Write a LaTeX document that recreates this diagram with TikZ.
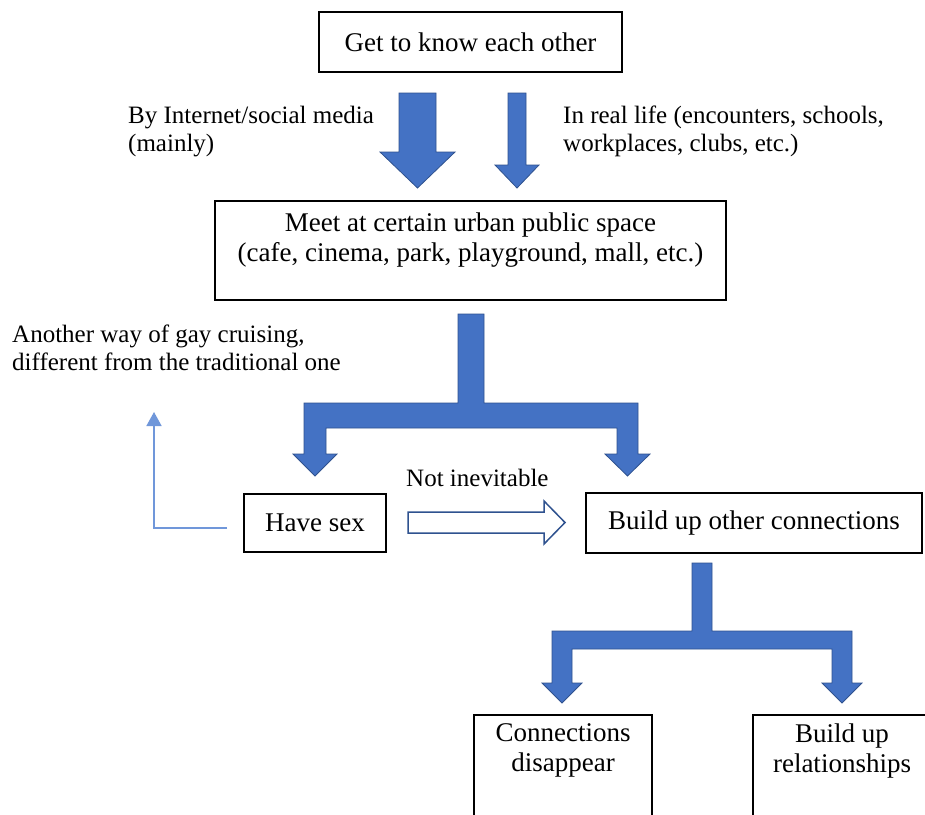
\documentclass[tikz,border=0pt]{standalone}
\usepackage{fontspec}
\setmainfont{Liberation Serif}
\usetikzlibrary{arrows.meta}
\definecolor{blk}{HTML}{4472C4}
\definecolor{blkedge}{HTML}{2F528F}
\definecolor{thinblue}{HTML}{7097DA}
\begin{document}
\begin{tikzpicture}[x=1pt,y=-1pt,
  box/.style={draw=black,line width=2.2pt,inner sep=0pt},
  boxtext/.style={font=\fontsize{27}{30}\selectfont,align=center,inner sep=0pt},
  lbl/.style={font=\fontsize{25}{28}\selectfont,align=left,inner sep=0pt,anchor=north west},
  blockarrow/.style={fill=blk,draw=blkedge,line width=0.8pt,line join=miter},
  hollow/.style={fill=white,draw=blkedge,line width=1.5pt,line join=miter},
  back/.style={draw=thinblue,line width=1.6pt,-{Triangle[width=15pt,length=14pt]}}]
\path[use as bounding box, clip] (0,0) rectangle (925,814);
\fill[white] (0,0) rectangle (925,814);

% boxes
\node[box,boxtext,minimum width=303,minimum height=60] (know) at (470.5,42) {Get to know each other};
\node[box,minimum width=511,minimum height=99] (meet) at (470.5,250.5) {};
\node[boxtext] (meettxt) at (470.5,240) {Meet at certain urban public space\\(cafe, cinema, park, playground, mall, etc.)};
\node[box,boxtext,minimum width=142,minimum height=58] (sex) at (315,523) {Have sex};
\node[box,boxtext,minimum width=336,minimum height=60] (conn) at (754,523) {Build up other connections};
\node[box,minimum width=178,minimum height=120,anchor=north] (gone) at (563,714) {};
\node[boxtext] (gonetxt) at (563,750.7) {Connections\\disappear};
\node[box,minimum width=178,minimum height=120,anchor=north] (rel) at (842,714) {};
\node[boxtext] (reltxt) at (842,750.7) {Build up\\relationships};

% labels
\node[lbl] (internet) at (128,103.4) {\strut By Internet/social media\\(mainly)};
\node[lbl] (reallife) at (563,103.4) {\strut In real life (encounters, schools,\\workplaces, clubs, etc.)};
\node[lbl] (another) at (12,322.4) {\strut Another way of gay cruising,\\different from the traditional one};
\node[lbl] (notinev) at (406,466.4) {\strut Not inevitable};

% block arrows from know to meet
\draw[blockarrow] (399,93) -- (436,93) -- (436,152) -- (455,152) -- (417.5,188)
  -- (380,152) -- (399,152) -- cycle;
\draw[blockarrow] (508,93) -- (526,93) -- (526,165) -- (539,165) -- (517,188)
  -- (495,165) -- (508,165) -- cycle;

% fork from meet to sex / conn
\draw[blockarrow] (458,314) -- (484,314) -- (484,403) -- (638,403) -- (638,454)
  -- (650,454) -- (627.5,476) -- (605,454) -- (617,454) -- (617,428)
  -- (326,428) -- (326,454) -- (337,454) -- (315,476) -- (293,454)
  -- (304,454) -- (304,403) -- (458,403) -- cycle;

% fork from conn to gone / rel
\draw[blockarrow] (692,563) -- (712,563) -- (712,631) -- (852,631) -- (852,683)
  -- (862,683) -- (842,703) -- (822,683) -- (832,683) -- (832,649)
  -- (572,649) -- (572,683) -- (582,683) -- (562,703) -- (542,683)
  -- (552,683) -- (552,631) -- (692,631) -- cycle;

% hollow arrow sex -> conn
\draw[hollow] (408,512) -- (544,512) -- (544,501) -- (565,522.5) -- (544,544)
  -- (544,533) -- (408,533) -- cycle;

% thin back arrow
\coordinate (backstart) at (227,528);
\coordinate (backend) at (154,412);
\draw[back] (backstart) -| (backend);
\end{tikzpicture}
\end{document}
